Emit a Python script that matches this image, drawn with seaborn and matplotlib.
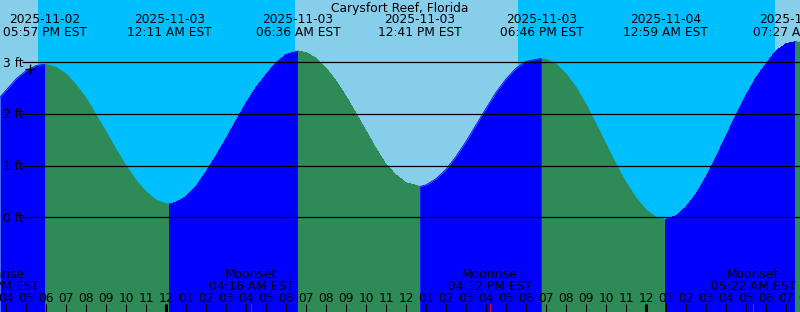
import numpy as np
import pandas as pd
import matplotlib
matplotlib.use("Agg")
import matplotlib.pyplot as plt
import matplotlib.transforms as mtransforms
import seaborn as sns

TITLE = "Carysfort Reef, Florida"

# Tide curve: hours after 2025-11-03 00:00 EST, height (ft)
tide_hours = [-8.3, -8, -7.5, -7, -6.5, -6.05, -5.5, -5, -4.5, -4, -3.5, -3, -2.5,
              -2, -1.5, -1, -0.5, 0,
              0.183, 0.5, 1, 1.5, 2, 2.5, 3, 3.5, 4, 4.5, 5, 5.5, 6,
              6.6, 7, 7.5, 8, 8.5, 9, 9.5, 10, 10.5, 11, 11.5, 12,
              12.683, 13, 13.5, 14, 14.5, 15, 15.5, 16, 16.5, 17, 17.5, 18,
              18.767, 19, 19.5, 20, 20.5, 21, 21.5, 22, 22.5, 23, 23.5, 24, 24.5,
              24.983, 25.5, 26, 26.5, 27, 27.5, 28, 28.5, 29, 29.5, 30, 30.5, 31,
              31.45, 31.7]
tide_ft = [2.33, 2.46, 2.68, 2.84, 2.94, 2.965, 2.91, 2.78, 2.57, 2.31, 1.99, 1.66,
           1.32, 1.00, 0.72, 0.50, 0.34, 0.27,
           0.26, 0.29, 0.40, 0.60, 0.88, 1.19, 1.52, 1.87, 2.21, 2.51, 2.76, 2.99,
           3.15,
           3.22, 3.19, 3.08, 2.89, 2.64, 2.34, 2.01, 1.67, 1.33, 1.02, 0.82, 0.67,
           0.60, 0.63, 0.75, 0.93, 1.18, 1.47, 1.79, 2.11, 2.42, 2.68, 2.89, 3.02,
           3.08, 3.06, 2.97, 2.78, 2.52, 2.19, 1.81, 1.42, 1.03, 0.68, 0.38, 0.15,
           0.01,
           -0.04, 0.03, 0.20, 0.45, 0.78, 1.16, 1.57, 1.98, 2.36, 2.70, 2.97, 3.22,
           3.36,
           3.40, 3.39]

# High / low tide events
extreme_hours = [-6.05, 0.183, 6.6, 12.683, 18.767, 24.983, 31.45]
extreme_dates = ["2025-11-02", "2025-11-03", "2025-11-03", "2025-11-03",
                 "2025-11-03", "2025-11-04", "2025-11-04"]
extreme_times = ["05:57 PM EST", "12:11 AM EST", "06:36 AM EST", "12:41 PM EST",
                 "06:46 PM EST", "12:59 AM EST", "07:27 AM EST"]

# Sun: night spans (sunset -> sunrise)
night_start = [-6.4, 17.6]
night_end = [6.45, 30.45]

# Moon events
moon_hours = [-8.45, 4.267, 16.2, 29.367]
moon_names = ["Moonrise", "Moonset", "Moonrise", "Moonset"]
moon_times = ["03:33 PM EST", "04:16 AM EST", "04:12 PM EST", "05:22 AM EST"]

depth_levels = [0, 1, 2, 3]
hour_ticks = list(range(-9, 33))
hour_labels = ["%02d" % ((h % 12) or 12) for h in hour_ticks]

DAY = "#87ceeb"
NIGHT = "#00bfff"
FLOOD = "#0000ff"
EBB = "#2e8b57"

sns.set_theme(style="white")
plt.rcParams["font.family"] = ["DejaVu Sans"]
FS = 8.8

W, H = 800, 312
fig = plt.figure(figsize=(W / 100, H / 100), dpi=100)
fig.patch.set_facecolor(DAY)
ax = fig.add_axes([0, 0, 1, 1])
ax.set_facecolor(DAY)

X0, X1 = -8.3, 31.7
Y0, Y1 = -1.829, 4.209

# build segments between extremes
df = pd.DataFrame({"hours": tide_hours, "ft": tide_ft})
bounds = [tide_hours[0]] + extreme_hours + [tide_hours[-1]]
pieces = []
for i in range(len(bounds) - 1):
    a, b = bounds[i], bounds[i + 1]
    seg = df[(df.hours >= a) & (df.hours <= b)].copy()
    if len(seg) < 2:
        continue
    seg["segment"] = i
    seg["phase"] = "rising" if seg.ft.iloc[-1] > seg.ft.iloc[0] else "falling"
    pieces.append(seg)
segs = pd.concat(pieces, ignore_index=True)

# night background
for s, e in zip(night_start, night_end):
    ax.axvspan(s, e, color=NIGHT, lw=0, zorder=0)

palette = {"rising": FLOOD, "falling": EBB}
for _, seg in segs.groupby("segment"):
    ax.fill_between(seg.hours, seg.ft, Y0 - 1, color=palette[seg.phase.iloc[0]],
                    lw=0, antialiased=False, zorder=1)
sns.lineplot(data=segs, x="hours", y="ft", hue="phase", units="segment",
             estimator=None, sort=False, palette=palette, legend=False,
             linewidth=0.6, ax=ax, zorder=2)

ax.set_xlim(X0, X1)
ax.set_ylim(Y0, Y1)
ax.axis("off")

px_per_ft = 51.67
zero_y = 217.5


def px_x(px):
    return X0 + px / 20.0


def top(Y):
    return 1 - Y / H


tr = mtransforms.blended_transform_factory(ax.transData, ax.transAxes)

# depth lines and labels
for lv in depth_levels:
    ax.plot([px_x(21.7), X1], [lv, lv], color="black", lw=0.9, zorder=3,
            solid_capstyle="butt")
    Y = zero_y - lv * px_per_ft
    ax.text(px_x(2.7), top(Y + 4.3), f"{lv} ft", transform=tr, ha="left",
            va="baseline", fontsize=FS, color="black", zorder=5)

# hour ticks
for h, lab in zip(hour_ticks, hour_labels):
    lw = 2.2 if h % 24 == 0 else 0.75
    ax.plot([h, h], [top(304), top(312.5)], transform=tr, color="black", lw=lw,
            solid_capstyle="butt", zorder=4, clip_on=False)
    ax.text(h, top(302.3), lab, transform=tr, ha="center", va="baseline",
            fontsize=FS, color="black", zorder=5)

# moon events
for h, nm, tm in zip(moon_hours, moon_names, moon_times):
    ax.plot([h, h], [top(304), top(312.5)], transform=tr, color="red", lw=0.75,
            solid_capstyle="butt", zorder=4)
    ax.text(h, top(278.3), nm, transform=tr, ha="center", va="baseline",
            fontsize=FS, color="black", zorder=5)
    ax.text(h, top(290.3), tm, transform=tr, ha="center", va="baseline",
            fontsize=FS, color="black", zorder=5)

# extremes labels
for h, d, t in zip(extreme_hours, extreme_dates, extreme_times):
    ax.text(h, top(23.3), d, transform=tr, ha="center", va="baseline",
            fontsize=FS, color="black", zorder=5)
    ax.text(h, top(35.8), t, transform=tr, ha="center", va="baseline",
            fontsize=FS, color="black", zorder=5)

# marker
ax.plot([px_x(30.3)], [(zero_y - 69) / px_per_ft], marker="+", ms=6.5,
        mew=1.0, color="black", zorder=5)

fig.text(0.5, top(11.7), TITLE, ha="center", va="baseline", fontsize=FS,
         color="black")

fig.savefig("out.png", dpi=100, facecolor=fig.get_facecolor())
